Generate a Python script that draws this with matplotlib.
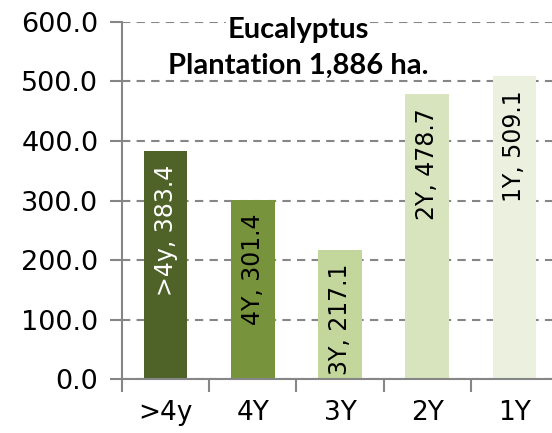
import matplotlib.pyplot as plt

categories = ['>4y', '4Y', '3Y', '2Y', '1Y']
bar_labels = ['>4y', '4Y', '3Y', '2Y', '1Y']
areas = [383.4, 301.4, 217.1, 478.7, 509.1]
colors = ['#4F6228', '#77933C', '#C3D69B', '#D7E4BD', '#EBF1DE']
text_colors = ['white', 'black', 'black', 'black', 'black']
y_ticks = [0, 100, 200, 300, 400, 500, 600]

fig = plt.figure(figsize=(5.52, 4.33), dpi=100)
ax = fig.add_axes([0.221, 0.1247, 0.790, 0.8245])

x = range(len(categories))
ax.bar(x, areas, width=0.5, color=colors, zorder=3)

# labels inside the bars, rotated, near the top
for i, v in enumerate(areas):
    ax.annotate(f'{bar_labels[i]}, {v:.1f}', xy=(i, v), xytext=(0, -10),
                textcoords='offset points', rotation=90, ha='center', va='top',
                fontsize=17, color=text_colors[i], zorder=4)

ax.set_xlim(-0.5, len(categories) - 0.5)
ax.set_ylim(0, 600)
ax.set_yticks(y_ticks)
ax.set_yticklabels([f'{t:.1f}' for t in y_ticks], fontsize=19.5)
ax.set_xticks([i + 0.5 for i in range(-1, len(categories))])
ax.set_xticklabels([])
ax.set_xticks(list(x), minor=True)
ax.set_xticklabels(categories, minor=True, fontsize=19)
ax.tick_params(axis='x', which='minor', length=0, pad=15)
ax.tick_params(axis='x', which='major', length=9, width=1.5, color='#868686')
ax.tick_params(axis='y', length=9, width=1.5, color='#868686', pad=8)

ax.yaxis.grid(True, linestyle=(0, (4, 3)), color='#868686', linewidth=1.5, zorder=0)
for s in ['top', 'right']:
    ax.spines[s].set_visible(False)
for s in ['left', 'bottom']:
    ax.spines[s].set_color('#868686')
    ax.spines[s].set_linewidth(1.5)
    ax.spines[s].set_zorder(5)

# title as two lines; the first one hides the top gridline behind it
fig.text(0.54, 0.912, 'Eucalyptus', ha='center', va='baseline',
         fontsize=21, fontweight='bold', family='Lato',
         bbox=dict(facecolor='white', edgecolor='none', pad=1))
fig.text(0.54, 0.829, 'Plantation 1,886 ha.', ha='center', va='baseline',
         fontsize=21, fontweight='bold', family='Lato')

fig.savefig('out.png', dpi=100)
